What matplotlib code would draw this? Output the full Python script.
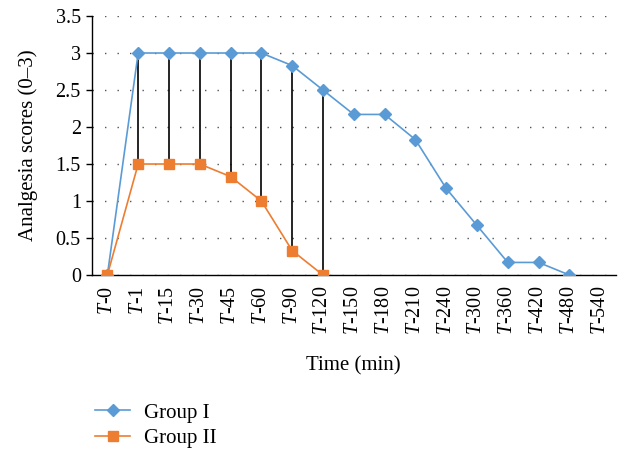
import matplotlib.pyplot as plt
import numpy as np

plt.rcParams['font.family'] = ['Liberation Serif', 'DejaVu Serif']
plt.rcParams['mathtext.fontset'] = 'custom'
plt.rcParams['mathtext.rm'] = 'Liberation Serif'
plt.rcParams['mathtext.it'] = 'Liberation Serif:italic'

# time points
times = ['0', '1', '15', '30', '45', '60', '90', '120', '150', '180', '210',
         '240', '300', '360', '420', '480', '540']
group1 = [0, 3, 3, 3, 3, 3, 2.83, 2.5, 2.17, 2.17, 1.83, 1.17, 0.67, 0.17, 0.17, 0, np.nan]
group2 = [0, 1.5, 1.5, 1.5, 1.33, 1.0, 0.33, 0, np.nan, np.nan, np.nan, np.nan,
          np.nan, np.nan, np.nan, np.nan, np.nan]

blue = '#5B9BD5'
orange = '#ED7D31'

fig = plt.figure(figsize=(6.24, 4.51), dpi=100)
ax = fig.add_axes([0.1474, 0.3902, 0.8391, 0.5743])

x = np.arange(len(times))
g1 = np.array(group1, dtype=float)
g2 = np.array(group2, dtype=float)

# high-low lines between the two groups
both = ~np.isnan(g1) & ~np.isnan(g2)
for xi, a, b in zip(x[both], g1[both], g2[both]):
    if a != b:
        ax.plot([xi, xi], [b, a], color='black', lw=1.2, zorder=2)

ax.plot(x, g1, color=blue, lw=1.2, marker='D', ms=6, label='Group I', zorder=3)
ax.plot(x, g2, color=orange, lw=1.2, marker='s', ms=7, label='Group II', zorder=3)

ax.set_xlim(-0.5, len(times) - 0.5)
ax.set_ylim(0, 3.5)
ax.set_yticks(np.arange(0, 3.51, 0.5))
ax.set_yticklabels(['0', '0.5', '1', '1.5', '2', '2.5', '3', '3.5'], fontsize=14.5)
ax.set_xticks(x)
ax.set_xticklabels([r'$\mathit{T}$-' + t for t in times], rotation=90, fontsize=14.5)
ax.tick_params(axis='x', length=0, pad=8)
ax.tick_params(axis='y', length=4, direction='out', width=1, pad=4)

ax.yaxis.grid(True, linestyle=(0, (1, 8)), color='#555555', lw=1)
ax.set_axisbelow(True)
for s in ['top', 'right']:
    ax.spines[s].set_visible(False)
ax.spines['left'].set_linewidth(1)
ax.spines['bottom'].set_linewidth(1)

ax.set_ylabel('Analgesia scores (0–3)', fontsize=15, labelpad=13)
ax.set_xlabel('Time (min)', fontsize=15, labelpad=15)

fig.legend(loc='center left', bbox_to_anchor=(0.152, 0.056), frameon=False,
           fontsize=15, handlelength=1.7, handletextpad=0.65, labelspacing=0.3,
           borderaxespad=0, borderpad=0)

fig.savefig('out.png', dpi=100)
